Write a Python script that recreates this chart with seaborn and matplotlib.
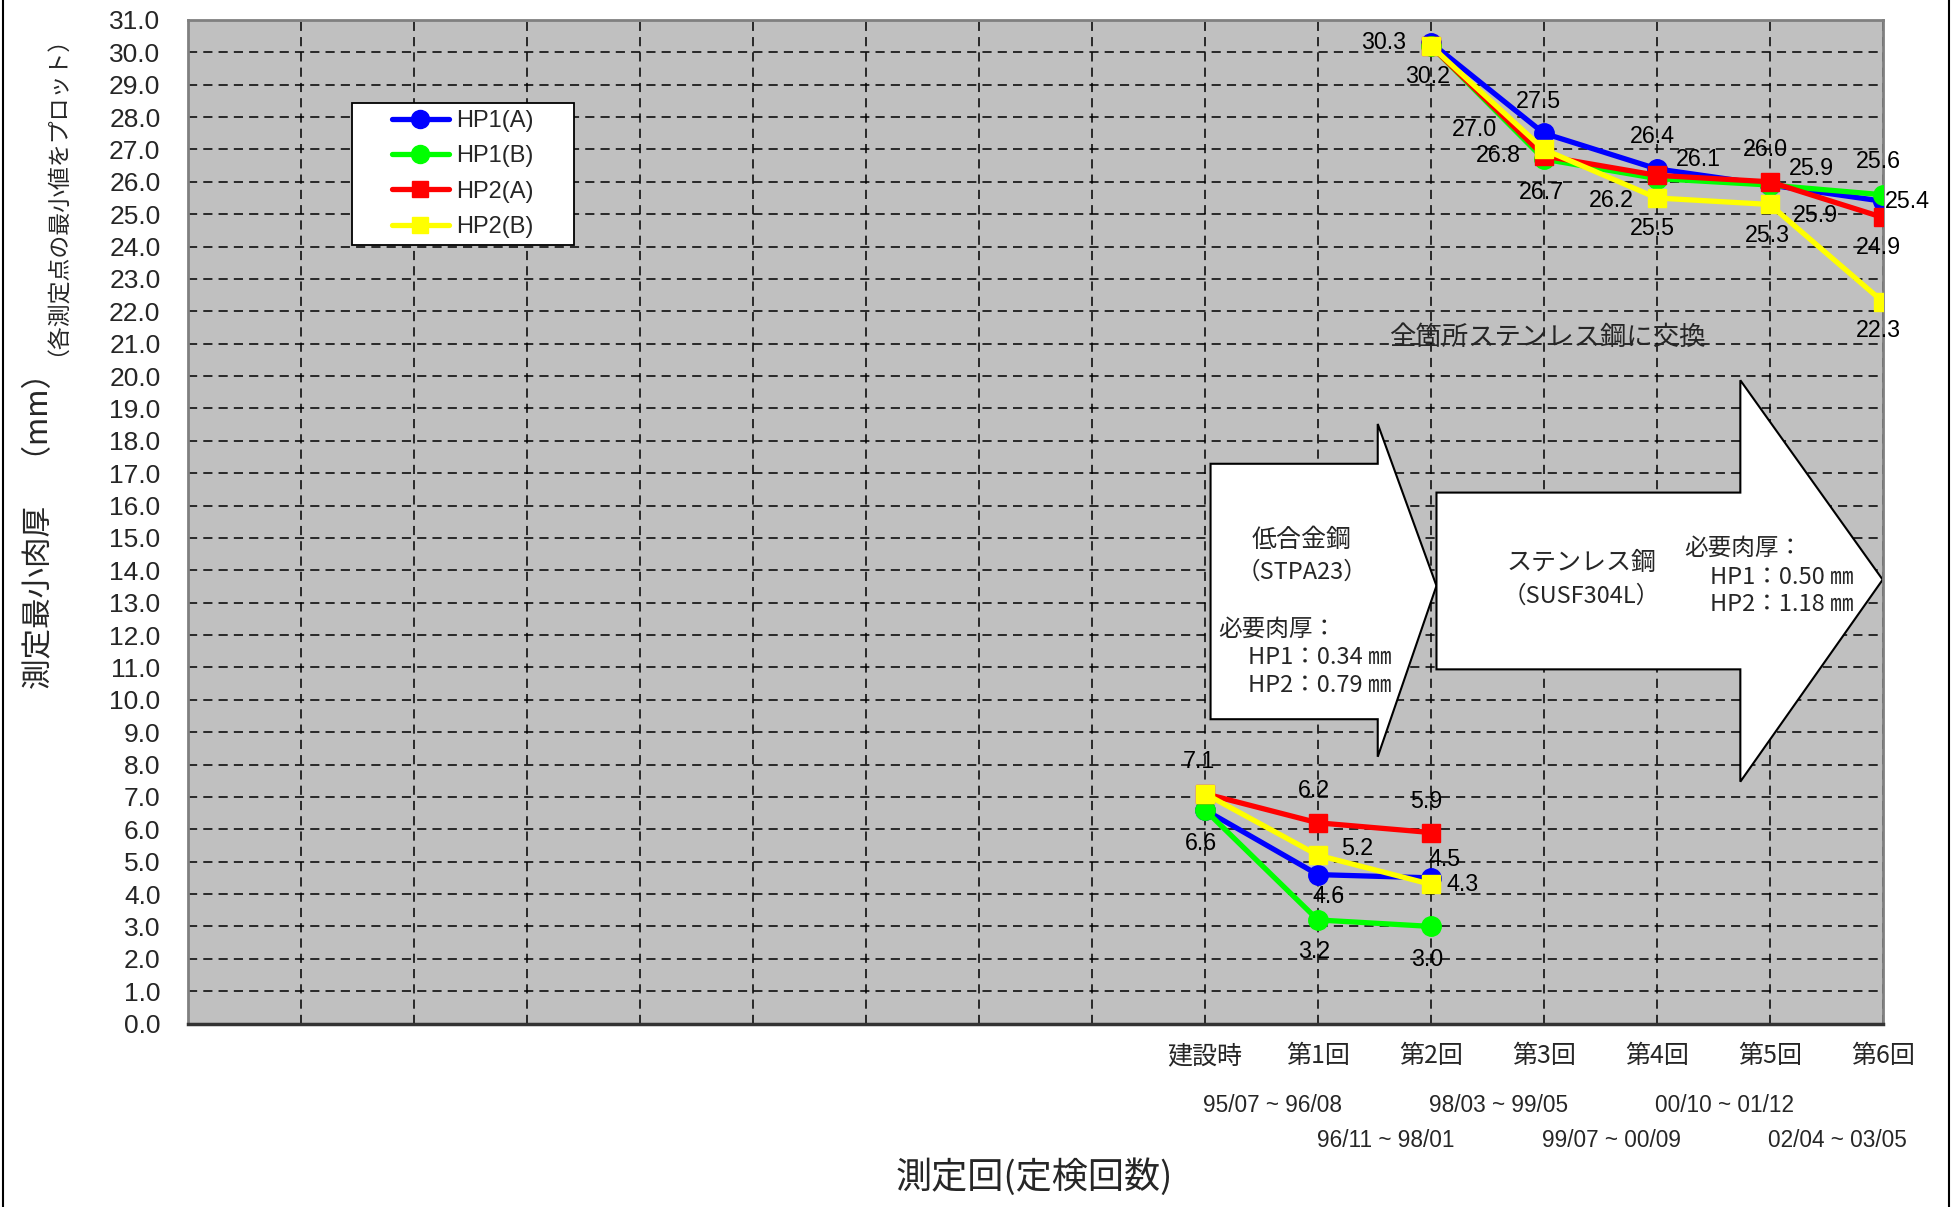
import numpy as np
import pandas as pd
import matplotlib
matplotlib.use('Agg')
import matplotlib.pyplot as plt
import seaborn as sns
from matplotlib import font_manager
from matplotlib.patches import Polygon, Rectangle
from matplotlib.lines import Line2D
from matplotlib.transforms import blended_transform_factory

# ---------------- data ----------------
categories = ['建設時', '第1回', '第2回', '第3回', '第4回', '第5回', '第6回']
n_blank = 9  # empty category slots at the left of the category axis
periods = ['95/07 ~ 96/08', '96/11 ~ 98/01', '98/03 ~ 99/05',
           '99/07 ~ 00/09', '00/10 ~ 01/12', '02/04 ~ 03/05']
y_ticks = list(range(0, 32))

old_cats = ['建設時', '第1回', '第2回']          # low-alloy steel pipe
new_cats = ['第2回', '第3回', '第4回', '第5回', '第6回']  # stainless pipe

series_names = ['HP1(A)', 'HP1(B)', 'HP2(A)', 'HP2(B)']
hp1a_old = [6.6, 4.6, 4.5]
hp1b_old = [6.6, 3.2, 3.0]
hp2a_old = [7.1, 6.2, 5.9]
hp2b_old = [7.1, 5.2, 4.3]
hp1a_new = [30.3, 27.5, 26.4, 25.9, 25.4]
hp1b_new = [30.2, 26.7, 26.1, 25.9, 25.6]
hp2a_new = [30.2, 26.8, 26.2, 26.0, 24.9]
hp2b_new = [30.2, 27.0, 25.5, 25.3, 22.3]

# data-label offsets in points (None = no label shown)
label_offsets = {
    ('HP1(A)', 'old'): [None, (8, -16), (10, 13)],
    ('HP1(B)', 'old'): [(-3, -24), (-3, -23), (-3, -24)],
    ('HP2(A)', 'old'): [None, (-3, 23), (-3, 22)],
    ('HP2(B)', 'old'): [(-4, 23), (28, 5), (23, 0)],
    ('HP1(A)', 'new'): [(-34, 0), (-4, 23), (-3, 23), (33, -22), (18, 0)],
    ('HP1(B)', 'new'): [None, (-2, -24), (30, 14), (30, 12), (-3, 24)],
    ('HP2(A)', 'new'): [None, (-33, 0), (-33, -18), (-3, 23), (-3, -22)],
    ('HP2(B)', 'new'): [(-2, -22), (-50, 14), (-3, -22), (-2, -22), (-3, -21)],
}

# ---------------- style ----------------
sns.set_style('white')
plt.rcParams['font.family'] = ['Liberation Sans', 'Noto Sans CJK JP', 'DejaVu Sans']
avail = {f.name for f in font_manager.fontManager.ttflist}
JP = ['Noto Sans CJK JP', 'DejaVu Sans']
if 'Liberation Sans Narrow' in avail:
    NARROW, nscale = ['Liberation Sans Narrow', 'Liberation Sans'], 1.05
else:
    NARROW, nscale = ['Liberation Sans'], 0.93

colors = {'HP1(A)': '#0000FF', 'HP1(B)': '#00FF00', 'HP2(A)': '#FF0000', 'HP2(B)': '#FFFF00'}
markers = {'HP1(A)': 'o', 'HP1(B)': 'o', 'HP2(A)': 's', 'HP2(B)': 's'}
msizes = {'o': 14, 's': 12.5}

slot = {c: n_blank + i for i, c in enumerate(categories)}
olds = dict(zip(series_names, [hp1a_old, hp1b_old, hp2a_old, hp2b_old]))
news = dict(zip(series_names, [hp1a_new, hp1b_new, hp2a_new, hp2b_new]))

rows = []
for name in series_names:
    for c, v in zip(old_cats, olds[name]):
        rows.append(dict(series=name, seg='old', cat=c, x=slot[c], y=v))
    for c, v in zip(new_cats, news[name]):
        rows.append(dict(series=name, seg='new', cat=c, x=slot[c], y=v))
df = pd.DataFrame(rows)

fig, ax = plt.subplots(figsize=(19.55, 12.07), dpi=100)
fig.subplots_adjust(left=0.0963, right=0.963, top=0.9835, bottom=0.152)
ax.set_facecolor('#C0C0C0')
ax.set_axisbelow(True)

# arrows (annotation shapes)
left_arrow = [(9.05, 9.40), (10.53, 9.40), (10.53, 8.24), (11.05, 13.52),
              (10.53, 18.52), (10.53, 17.29), (9.05, 17.29)]
right_arrow = [(11.05, 10.94), (13.74, 10.94), (13.74, 7.47), (15.0, 13.71),
               (13.74, 19.87), (13.74, 16.40), (11.05, 16.40)]
for pts in (left_arrow, right_arrow):
    ax.add_patch(Polygon(pts, closed=True, facecolor='white', edgecolor='black',
                         linewidth=1.5, zorder=1.5, clip_on=False))

for name in series_names:
    for seg in ['old', 'new']:
        d = df[(df.series == name) & (df.seg == seg)]
        m = markers[name]
        sns.lineplot(data=d, x='x', y='y', ax=ax, color=colors[name], marker=m,
                     markersize=msizes[m], markeredgecolor=colors[name], markeredgewidth=1,
                     linewidth=3.8, legend=False, sort=False, estimator=None, zorder=3)
        for (xv, yv), off in zip(d[['x', 'y']].values, label_offsets[(name, seg)]):
            if off is None:
                continue
            ax.annotate(f'{yv:.1f}', xy=(xv, yv), xytext=off, textcoords='offset points',
                        ha='center', va='center', fontsize=18 * nscale, family=NARROW,
                        color='black', zorder=5)

# axes
ax.set_xlim(0, n_blank + len(categories) - 1)
ax.set_ylim(0, 31)
ax.set_xticks(range(0, n_blank + len(categories)))
ax.set_xticklabels([''] * n_blank + categories, family=JP, fontsize=18)
ax.set_yticks(y_ticks)
ax.set_yticklabels([f'{v:.1f}' for v in y_ticks], fontsize=19)
ax.tick_params(axis='y', direction='in', length=7, width=1, pad=20, color='black')
ax.tick_params(axis='x', direction='in', length=8, width=1, pad=14, color='black')
ax.grid(True, color='black', linestyle=(0, (6, 4)), linewidth=1.1)
ax.set_xlabel('')
ax.set_ylabel('')
for side in ['top', 'right', 'left']:
    ax.spines[side].set_color('#808080')
    ax.spines[side].set_linewidth(2)
ax.spines['bottom'].set_color('#333333')
ax.spines['bottom'].set_linewidth(2.5)

# legend with manual white box
ax.add_patch(Rectangle((0.0964, 0.776), 0.131, 0.1408, transform=ax.transAxes,
                       facecolor='white', edgecolor='black', linewidth=1.3, zorder=4))
handles = [Line2D([], [], color=colors[n], marker=markers[n], markersize=msizes[markers[n]] - 1,
                  markeredgecolor=colors[n], linewidth=3.8) for n in series_names]
leg = ax.legend(handles, series_names, loc='center',
                bbox_to_anchor=(0.0964 + 0.131 / 2, 0.776 + 0.1408 / 2),
                frameon=False, fontsize=17, handlelength=2.4, handletextpad=0.3,
                labelspacing=0.56, borderpad=0)
leg.set_zorder(6)

# texts
ax.text(12.03, 21.2, '全箇所ステンレス鋼に交換', family=JP, fontsize=19,
        ha='center', va='center', zorder=5)
ax.text(9.86, 14.94, '低合金鋼', family=JP, fontsize=18, ha='center', va='center', zorder=5)
ax.text(9.86, 13.94, '（STPA23）', family=JP, fontsize=17, ha='center', va='center', zorder=5)
ax.text(9.12, 12.17, '必要肉厚：', family=JP, fontsize=17, ha='left', va='center', zorder=5)
ax.text(9.38, 11.32, 'HP1：0.34 ㎜', family=JP, fontsize=17, ha='left', va='center', zorder=5)
ax.text(9.38, 10.43, 'HP2：0.79 ㎜', family=JP, fontsize=17, ha='left', va='center', zorder=5)
ax.text(12.33, 14.21, 'ステンレス鋼', family=JP, fontsize=18, ha='center', va='center', zorder=5)
ax.text(12.33, 13.21, '（SUSF304L）', family=JP, fontsize=17, ha='center', va='center', zorder=5)
ax.text(13.24, 14.67, '必要肉厚：', family=JP, fontsize=17, ha='left', va='center', zorder=5)
ax.text(13.47, 13.78, 'HP1：0.50 ㎜', family=JP, fontsize=17, ha='left', va='center', zorder=5)
ax.text(13.47, 12.94, 'HP2：1.18 ㎜', family=JP, fontsize=17, ha='left', va='center', zorder=5)

# inspection periods below the category labels
bt = blended_transform_factory(ax.transData, fig.transFigure)
for i, p in enumerate(periods):
    xpos = slot[categories[i + 1]] - 0.4
    ypos = 0.0837 if i % 2 == 0 else 0.0548
    ax.text(xpos, ypos, p, transform=bt, family=NARROW, fontsize=17.5 * nscale,
            ha='center', va='center')

# axis titles
fig.text(0.529, 0.025, '測定回(定検回数)', family=JP, fontsize=26, ha='center', va='center')
fig.text(0.0204, 0.566, '測定最小肉厚　（mm）', family=JP, fontsize=22, rotation=90,
         ha='center', va='center')
fig.text(0.0236, 0.847, '（各測定点の最小値をプロット）', family=JP, fontsize=16.5, rotation=90,
         ha='center', va='center')

# outer frame lines
fig.add_artist(Line2D([0.0015, 0.0015], [0, 1], transform=fig.transFigure, color='black', lw=1.5))
fig.add_artist(Line2D([0.997, 0.997], [0, 1], transform=fig.transFigure, color='black', lw=1.5))

fig.savefig('out.png', dpi=100, facecolor='white')
